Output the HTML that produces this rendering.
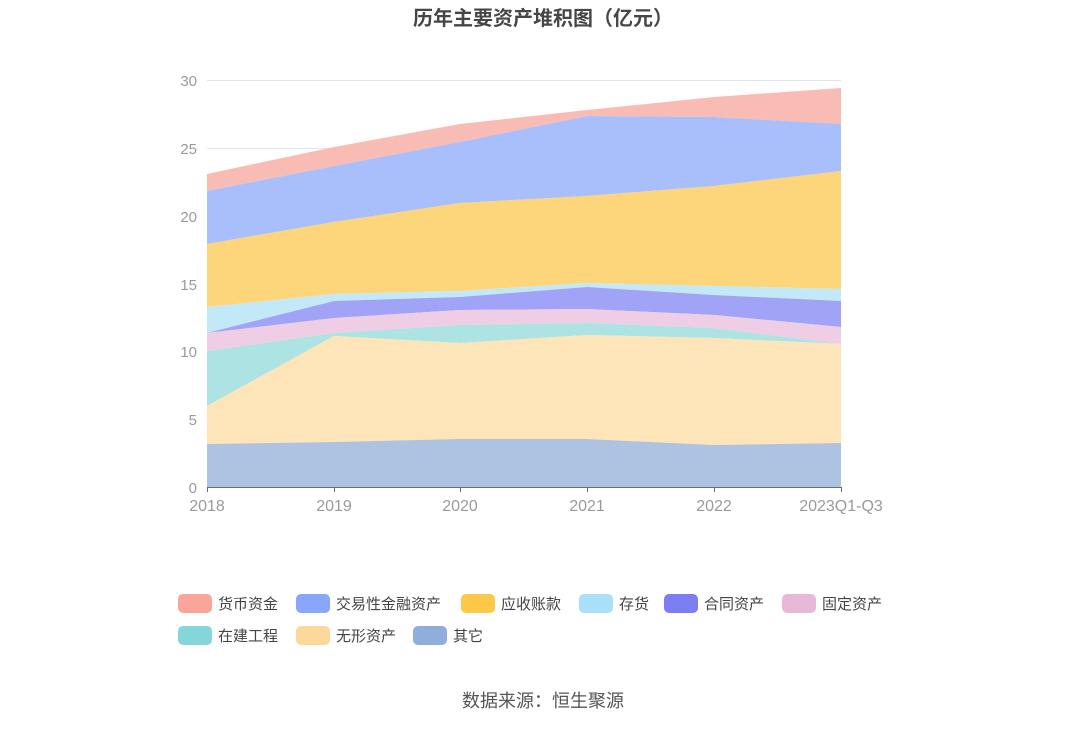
<!DOCTYPE html>
<html><head><meta charset="utf-8"><style>
body{margin:0;background:#fff;}
svg text{font-family:"Liberation Sans","Noto Sans CJK SC",sans-serif;}
</style></head><body>
<svg width="1086" height="728" xmlns="http://www.w3.org/2000/svg">
<text x="543" y="25" text-anchor="middle" font-size="20" font-weight="bold" fill="#464646">历年主要资产堆积图（亿元）</text>
<g stroke="#e0e6f1" stroke-width="1">
<line x1="207" y1="80.5" x2="841" y2="80.5"/><line x1="207" y1="148.5" x2="841" y2="148.5"/>
<line x1="207" y1="216.5" x2="841" y2="216.5"/><line x1="207" y1="284.5" x2="841" y2="284.5"/>
<line x1="207" y1="351.5" x2="841" y2="351.5"/><line x1="207" y1="419.5" x2="841" y2="419.5"/>
</g>
<g>
<polygon fill="#f9bcb5" points="207,174 334,147 460,124 587,110 714,97 841,88 841,124 714,117 587,116 460,142 334,166 207,191"/>
<polygon fill="#a8bffc" points="207,191 334,166 460,142 587,116 714,117 841,124 841,171 714,186 587,196 460,203 334,222 207,244"/>
<polygon fill="#fdd67c" points="207,244 334,222 460,203 587,196 714,186 841,171 841,289 714,286 587,283 460,291 334,294 207,307"/>
<polygon fill="#c3e9f8" points="207,307 334,294 460,291 587,283 714,286 841,289 841,301 714,295 587,287 460,297 334,301 207,333"/>
<polygon fill="#a0a3f6" points="207,333 334,301 460,297 587,287 714,295 841,301 841,327 714,315 587,309 460,310 334,318 207,333"/>
<polygon fill="#efcde4" points="207,333 334,318 460,310 587,309 714,315 841,327 841,344 714,328 587,323 460,325 334,333 207,351"/>
<polygon fill="#aee3e3" points="207,351 334,333 460,325 587,323 714,328 841,344 841,344 714,338 587,335 460,343 334,336 207,406"/>
<polygon fill="#fde5b9" points="207,406 334,336 460,343 587,335 714,338 841,344 841,443 714,445 587,439 460,439 334,442 207,444"/>
<polygon fill="#aec2e2" points="207,444 334,442 460,439 587,439 714,445 841,443 841,487 207,487"/>
</g>
<line x1="207" y1="487.5" x2="841" y2="487.5" stroke="#6e7079"/>
<g stroke="#6e7079"><line x1="207.5" y1="487" x2="207.5" y2="492"/><line x1="334.5" y1="487" x2="334.5" y2="492"/><line x1="460.5" y1="487" x2="460.5" y2="492"/><line x1="587.5" y1="487" x2="587.5" y2="492"/><line x1="714.5" y1="487" x2="714.5" y2="492"/><line x1="841.5" y1="487" x2="841.5" y2="492"/></g>
<g font-size="15" fill="#9a9a9a" text-anchor="end">
<text x="197" y="86">30</text><text x="197" y="154">25</text><text x="197" y="222">20</text><text x="197" y="290">15</text><text x="197" y="357">10</text><text x="197" y="425">5</text><text x="197" y="493">0</text>
</g>
<g font-size="16" fill="#9a9a9a" text-anchor="middle">
<text x="207" y="511">2018</text><text x="334" y="511">2019</text><text x="460" y="511">2020</text><text x="587" y="511">2021</text><text x="714" y="511">2022</text><text x="841" y="511">2023Q1-Q3</text>
</g>
<g font-size="15" fill="#444">
<rect x="178" y="594" width="34" height="19" rx="5" fill="#f9a59a"/><text x="218" y="609">货币资金</text>
<rect x="296" y="594" width="34" height="19" rx="5" fill="#88a6fb"/><text x="336" y="609">交易性金融资产</text>
<rect x="461" y="594" width="34" height="19" rx="5" fill="#fdc845"/><text x="501" y="609">应收账款</text>
<rect x="579" y="594" width="34" height="19" rx="5" fill="#a8e0f9"/><text x="619" y="609">存货</text>
<rect x="664" y="594" width="34" height="19" rx="5" fill="#7b7ff3"/><text x="704" y="609">合同资产</text>
<rect x="782" y="594" width="34" height="19" rx="5" fill="#e8b8d9"/><text x="822" y="609">固定资产</text>
<rect x="178" y="626" width="34" height="19" rx="5" fill="#84d6d8"/><text x="218" y="641">在建工程</text>
<rect x="296" y="626" width="34" height="19" rx="5" fill="#fdd89b"/><text x="336" y="641">无形资产</text>
<rect x="413" y="626" width="34" height="19" rx="5" fill="#90aedb"/><text x="453" y="641">其它</text>
</g>
<text x="543" y="707" text-anchor="middle" font-size="18" fill="#555">数据来源：恒生聚源</text>
</svg>
</body></html>
